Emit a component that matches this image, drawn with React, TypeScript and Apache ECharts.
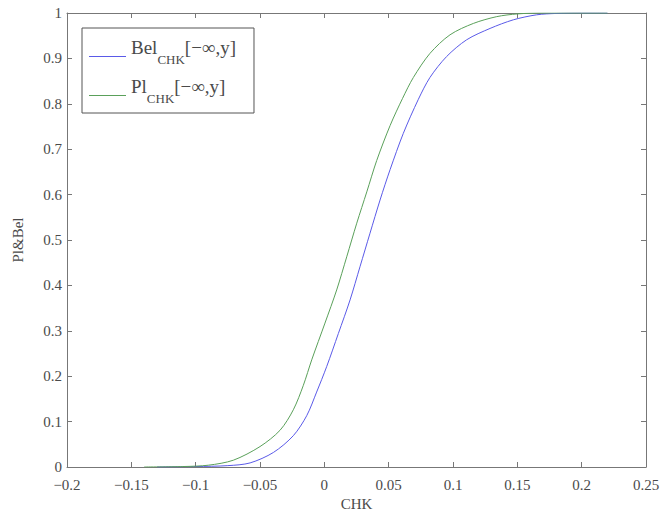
import React, { useEffect, useRef } from "react";
import * as echarts from "echarts";

const xTicks = [-0.2, 0.25];
const yTicks = [0, 1];

const belData: [number, number][] = [
  [-0.13, 0], [-0.1, 0.001], [-0.075, 0.003], [-0.0577, 0.009], [-0.0396, 0.032],
  [-0.0241, 0.069], [-0.0137, 0.113], [-0.006, 0.165], [0.0018, 0.221], [0.0109, 0.294],
  [0.02, 0.368], [0.0277, 0.441], [0.0355, 0.515], [0.0433, 0.588], [0.0511, 0.655],
  [0.0614, 0.735], [0.0731, 0.81], [0.0821, 0.858], [0.095, 0.904], [0.1106, 0.941],
  [0.1288, 0.966], [0.1469, 0.985], [0.165, 0.996], [0.18, 0.999], [0.2, 1], [0.22, 1],
];

const plData: [number, number][] = [
  [-0.14, 0], [-0.11, 0.001], [-0.09, 0.004], [-0.0707, 0.015], [-0.05, 0.045],
  [-0.0344, 0.081], [-0.0241, 0.126], [-0.0163, 0.18], [-0.0098, 0.236], [0.0005, 0.317],
  [0.0096, 0.39], [0.0174, 0.463], [0.0252, 0.537], [0.033, 0.606], [0.0407, 0.675],
  [0.0511, 0.752], [0.0608, 0.812], [0.0692, 0.858], [0.0821, 0.911], [0.0977, 0.952],
  [0.1158, 0.977], [0.134, 0.992], [0.15, 0.998], [0.17, 1], [0.22, 1],
];

const FONT = "Liberation Serif";
const AXIS_COLOR = "#777";
const TEXT_COLOR = "#4a4a4a";
const BLUE = "#5a5ae8";
const GREEN = "#5aa05a";
const fmt = (v: number) => {
  const r = Math.round(v * 1000) / 1000;
  return String(r).replace("-", "\u2212");
};

export default function App() {
  const ref = useRef<HTMLDivElement>(null);
  useEffect(() => {
    if (!ref.current) return;
    const chart = echarts.init(ref.current, null, { renderer: "svg" });
    const axisCommon = {
      axisLine: { show: true, onZero: false, lineStyle: { color: AXIS_COLOR, width: 1 } },
      axisTick: { show: true, inside: true, length: 5, lineStyle: { color: AXIS_COLOR } },
      splitLine: { show: false },
    };
    chart.setOption({
      animation: false,
      backgroundColor: "#fff",
      textStyle: { fontFamily: FONT },
      grid: { left: 67, right: 18, top: 13, bottom: 52, containLabel: false },
      legend: {
        orient: "vertical",
        left: 82,
        top: 28,
        padding: [10, 18, 8, 7],
        borderColor: "#555",
        borderWidth: 1,
        backgroundColor: "#fff",
        itemWidth: 37,
        itemHeight: 1,
        itemGap: 11,
        icon: "rect",
        data: [
          { name: "Bel", itemStyle: { color: BLUE } },
          { name: "Pl", itemStyle: { color: GREEN } },
        ],
        formatter: (name: string) => `{a|${name}}{b|CHK}{a|[\u2212\u221e,y]}`,
        textStyle: {
          color: TEXT_COLOR,
          fontFamily: FONT,
          rich: {
            a: { fontSize: 19, padding: [0, 0, 18, 0], fontFamily: FONT, color: TEXT_COLOR },
            b: { fontSize: 13, padding: [6, 0, 0, 0], fontFamily: FONT, color: TEXT_COLOR },
          },
        },
      },
      xAxis: [
        {
          type: "value",
          min: xTicks[0],
          max: xTicks[1],
          interval: 0.05,
          name: "CHK",
          nameLocation: "middle",
          nameGap: 28,
          nameTextStyle: { fontSize: 15, color: TEXT_COLOR, fontFamily: FONT },
          axisLabel: { fontSize: 15, color: TEXT_COLOR, margin: 10, fontFamily: FONT, formatter: fmt },
          ...axisCommon,
        },
        {
          type: "value",
          position: "top",
          min: xTicks[0],
          max: xTicks[1],
          interval: 0.05,
          axisLabel: { show: false },
          ...axisCommon,
        },
      ],
      yAxis: [
        {
          type: "value",
          min: yTicks[0],
          max: yTicks[1],
          interval: 0.1,
          name: "Pl&Bel",
          nameLocation: "middle",
          nameGap: 42,
          nameTextStyle: { fontSize: 15, color: TEXT_COLOR, fontFamily: FONT },
          axisLabel: { fontSize: 15, color: TEXT_COLOR, margin: 5, fontFamily: FONT, formatter: fmt },
          ...axisCommon,
        },
        {
          type: "value",
          position: "right",
          min: yTicks[0],
          max: yTicks[1],
          interval: 0.1,
          axisLabel: { show: false },
          ...axisCommon,
        },
      ],
      series: [
        {
          name: "Bel",
          type: "line",
          data: belData,
          showSymbol: false,
          smooth: 0.3,
          itemStyle: { color: BLUE },
          lineStyle: { width: 1, color: BLUE },
        },
        {
          name: "Pl",
          type: "line",
          data: plData,
          showSymbol: false,
          smooth: 0.3,
          itemStyle: { color: GREEN },
          lineStyle: { width: 1, color: GREEN },
        },
      ],
    });
    return () => chart.dispose();
  }, []);
  return <div ref={ref} style={{ width: 664, height: 519, position: "absolute", left: 0, top: 0 }} />;
}
